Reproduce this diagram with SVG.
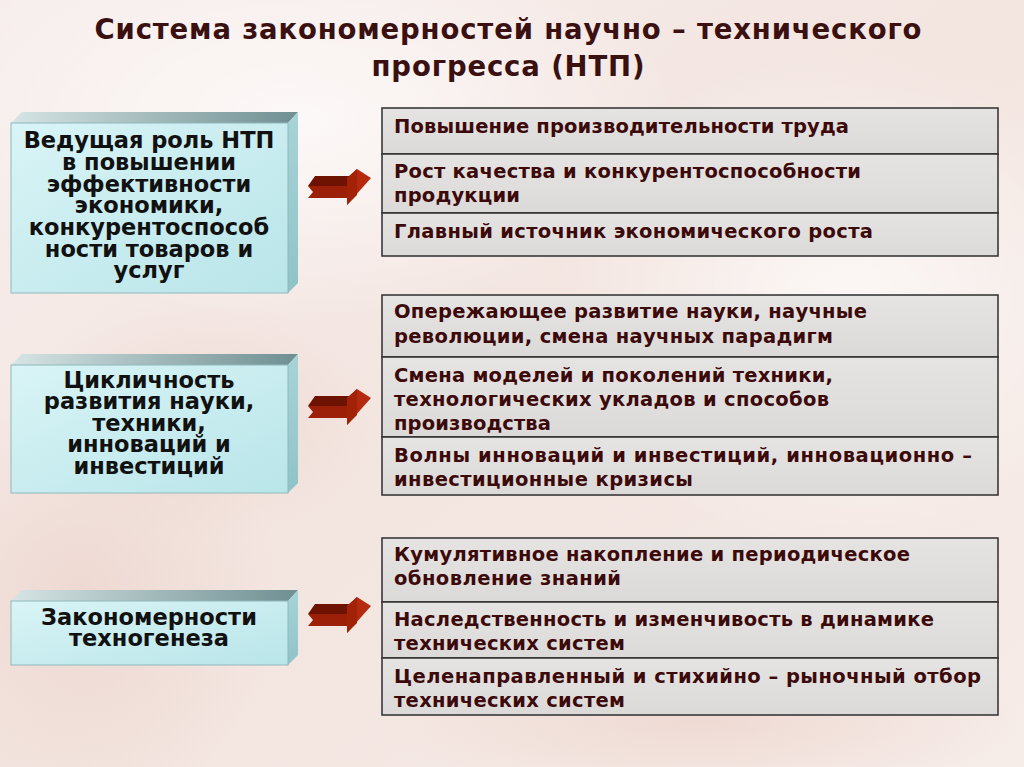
<svg xmlns="http://www.w3.org/2000/svg" width="1024" height="767" viewBox="0 0 1024 767">
<defs>
<style>
.title{font-family:"DejaVu Sans",Verdana,sans-serif;font-weight:bold;font-size:27.5px;fill:#3a1010;text-anchor:middle}
.lt{font-family:"DejaVu Sans",Verdana,sans-serif;font-weight:bold;font-size:22.5px;fill:#111;text-anchor:middle}
.rt{font-family:"DejaVu Sans",Verdana,sans-serif;font-weight:bold;font-size:19.5px;fill:#3c0a0a}
.row{fill:url(#rowg);stroke:#2e2e2e;stroke-width:1.5}
.front{fill:url(#frontg);stroke:#8fb8bc;stroke-width:1}
.top{fill:url(#topg)}
.side{fill:url(#sideg)}
</style>
<linearGradient id="bg" x1="0" y1="0" x2="1" y2="1">
<stop offset="0" stop-color="#f7eeec"/>
<stop offset="0.5" stop-color="#f3e5e0"/>
<stop offset="1" stop-color="#f6ece8"/>
</linearGradient>
<radialGradient id="blob1" cx="0.5" cy="0.5" r="0.5">
<stop offset="0" stop-color="#ffffff" stop-opacity="0.7"/>
<stop offset="1" stop-color="#ffffff" stop-opacity="0"/>
</radialGradient>
<radialGradient id="blob2" cx="0.5" cy="0.5" r="0.5">
<stop offset="0" stop-color="#ebcfc7" stop-opacity="0.6"/>
<stop offset="1" stop-color="#ebcfc7" stop-opacity="0"/>
</radialGradient>
<linearGradient id="rowg" x1="0" y1="0" x2="0" y2="1">
<stop offset="0" stop-color="#e6e4e3"/>
<stop offset="1" stop-color="#dcdad9"/>
</linearGradient>
<linearGradient id="frontg" x1="0" y1="0" x2="1" y2="1">
<stop offset="0" stop-color="#d9f4f6"/>
<stop offset="1" stop-color="#b9e5e9"/>
</linearGradient>
<linearGradient id="topg" x1="0" y1="0" x2="1" y2="0">
<stop offset="0" stop-color="#d6e4e4"/>
<stop offset="1" stop-color="#6f8f92"/>
</linearGradient>
<linearGradient id="sideg" x1="0" y1="0" x2="0" y2="1">
<stop offset="0" stop-color="#a6d4d8"/>
<stop offset="1" stop-color="#8fc3c8"/>
</linearGradient>
<g id="arrow">
<polygon points="315,176 357,176 347,186 308,186" fill="#6e1202"/>
<polygon points="308,186 348,186 348,198 308,198 313,192" fill="#9c2008"/>
<polygon points="347,178 357,169 371,178 347,205" fill="#b52a0f"/>
<polygon points="347,178 357,169 357,195 347,205" fill="#a22208"/>
</g>
</defs>

<rect x="0" y="0" width="1024" height="767" fill="url(#bg)"/>
<ellipse cx="300" cy="120" rx="380" ry="200" fill="url(#blob1)"/>
<ellipse cx="850" cy="300" rx="300" ry="250" fill="url(#blob1)"/>
<ellipse cx="80" cy="600" rx="200" ry="220" fill="url(#blob2)"/>
<ellipse cx="700" cy="720" rx="320" ry="80" fill="url(#blob2)"/>
<ellipse cx="200" cy="420" rx="180" ry="120" fill="url(#blob2)"/>

<g id="title">
<text class="title" x="508" y="39" textLength="827" lengthAdjust="spacing">Система закономерностей научно – технического</text>
<text class="title" x="508" y="76" textLength="273" lengthAdjust="spacing">прогресса (НТП)</text>
</g>

<g id="node-left-1">
<polygon class="top" points="11,123 22,112 298,112 288,123"/>
<polygon class="side" points="288,123 298,112 298,283 288,293"/>
<rect class="front" x="11" y="123" width="277" height="170"/>
<text class="lt" x="149" y="148">Ведущая роль НТП</text>
<text class="lt" x="149" y="170">в повышении</text>
<text class="lt" x="149" y="192">эффективности</text>
<text class="lt" x="149" y="213">экономики,</text>
<text class="lt" x="149" y="235">конкурентоспособ</text>
<text class="lt" x="149" y="257">ности товаров и</text>
<text class="lt" x="149" y="278">услуг</text>
</g>

<g id="node-left-2">
<polygon class="top" points="11,365 22,354 298,354 288,365"/>
<polygon class="side" points="288,365 298,354 298,483 288,493"/>
<rect class="front" x="11" y="365" width="277" height="128"/>
<text class="lt" x="149" y="388">Цикличность</text>
<text class="lt" x="149" y="409">развития науки,</text>
<text class="lt" x="149" y="431">техники,</text>
<text class="lt" x="149" y="452">инноваций и</text>
<text class="lt" x="149" y="474">инвестиций</text>
</g>

<g id="node-left-3">
<polygon class="top" points="11,601 22,590 298,590 288,601"/>
<polygon class="side" points="288,601 298,590 298,655 288,665"/>
<rect class="front" x="11" y="601" width="277" height="64"/>
<text class="lt" x="149" y="625">Закономерности</text>
<text class="lt" x="149" y="646">техногенеза</text>
</g>

<g id="connectors">
<use href="#arrow"/>
<use href="#arrow" transform="translate(0,220)"/>
<use href="#arrow" transform="translate(0,428)"/>
</g>

<g id="node-right-1">
<rect class="row" x="382" y="108" width="616" height="46"/>
<rect class="row" x="382" y="154" width="616" height="59"/>
<rect class="row" x="382" y="213" width="616" height="43"/>
<text class="rt" x="394" y="133" textLength="455" lengthAdjust="spacing">Повышение производительности труда</text>
<text class="rt" x="394" y="178" textLength="467" lengthAdjust="spacing">Рост качества и конкурентоспособности</text>
<text class="rt" x="394" y="202" textLength="126" lengthAdjust="spacing">продукции</text>
<text class="rt" x="394" y="238" textLength="479" lengthAdjust="spacing">Главный источник экономического роста</text>
</g>

<g id="node-right-2">
<rect class="row" x="382" y="295" width="616" height="62"/>
<rect class="row" x="382" y="357" width="616" height="80"/>
<rect class="row" x="382" y="437" width="616" height="58"/>
<text class="rt" x="394" y="318" textLength="473" lengthAdjust="spacing">Опережающее развитие науки, научные</text>
<text class="rt" x="394" y="343" textLength="439" lengthAdjust="spacing">революции, смена научных парадигм</text>
<text class="rt" x="394" y="382" textLength="439" lengthAdjust="spacing">Смена моделей и поколений техники,</text>
<text class="rt" x="394" y="406" textLength="435" lengthAdjust="spacing">технологических укладов и способов</text>
<text class="rt" x="394" y="430" textLength="157" lengthAdjust="spacing">производства</text>
<text class="rt" x="394" y="462" textLength="578" lengthAdjust="spacing">Волны инноваций и инвестиций, инновационно –</text>
<text class="rt" x="394" y="486" textLength="299" lengthAdjust="spacing">инвестиционные кризисы</text>
</g>

<g id="node-right-3">
<rect class="row" x="382" y="538" width="616" height="64"/>
<rect class="row" x="382" y="602" width="616" height="56"/>
<rect class="row" x="382" y="658" width="616" height="57"/>
<text class="rt" x="394" y="561" textLength="516" lengthAdjust="spacing">Кумулятивное накопление и периодическое</text>
<text class="rt" x="394" y="585" textLength="227" lengthAdjust="spacing">обновление знаний</text>
<text class="rt" x="394" y="626" textLength="540" lengthAdjust="spacing">Наследственность и изменчивость в динамике</text>
<text class="rt" x="394" y="650" textLength="231" lengthAdjust="spacing">технических систем</text>
<text class="rt" x="394" y="683" textLength="587" lengthAdjust="spacing">Целенаправленный и стихийно – рыночный отбор</text>
<text class="rt" x="394" y="707" textLength="231" lengthAdjust="spacing">технических систем</text>
</g>
</svg>
